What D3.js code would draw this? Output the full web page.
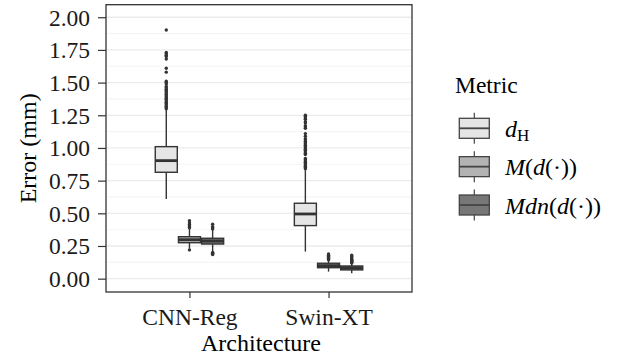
<!DOCTYPE html>
<html>
<head>
<meta charset="utf-8">
<script src="https://cdn.jsdelivr.net/npm/d3@7"></script>
</head>
<body style="margin:0;background:#fff">
<svg id="chart" width="619" height="359" style="display:block"></svg>
<script>
// categories
const architectures = ["CNN-Reg", "Swin-XT"];
const metrics = ["dH", "M", "Mdn"];
const yTicks = [0, 0.25, 0.5, 0.75, 1, 1.25, 1.5, 1.75, 2];

// box statistics, [architecture][metric]
const whiskerLow = [[0.61, 0.23, 0.21], [0.207, 0.054, 0.041]];
const quartile1 = [[0.814, 0.275, 0.265], [0.406, 0.084, 0.067]];
const medians = [[0.903, 0.298, 0.288], [0.495, 0.100, 0.082]];
const quartile3 = [[1.010, 0.321, 0.309], [0.577, 0.118, 0.097]];
const whiskerHigh = [[1.29, 0.385, 0.372], [0.83, 0.14, 0.115]];

// outliers, [architecture][metric]
const outliers = [
  [
    [1.903, 1.73, 1.72, 1.71, 1.70, 1.68, 1.61, 1.58, 1.51, 1.50, 1.49, 1.47, 1.46, 1.45, 1.44,
     1.43, 1.42, 1.41, 1.40, 1.39, 1.38, 1.37, 1.36, 1.35, 1.34, 1.33, 1.32, 1.31, 1.30],
    [0.444, 0.426, 0.415, 0.405, 0.395, 0.39, 0.22],
    [0.416, 0.398, 0.39, 0.38, 0.20, 0.195, 0.19, 0.185]
  ],
  [
    [1.25, 1.24, 1.23, 1.22, 1.20, 1.19, 1.17, 1.16, 1.15, 1.11, 1.09, 1.07, 1.06, 1.05, 1.04,
     1.03, 1.02, 1.01, 1.00, 0.99, 0.98, 0.97, 0.96, 0.95, 0.92, 0.91, 0.90, 0.89, 0.88, 0.87,
     0.86, 0.85, 0.84],
    [0.189, 0.18, 0.175, 0.17, 0.165, 0.16, 0.155, 0.15, 0.145],
    [0.179, 0.17, 0.16, 0.15, 0.145, 0.14, 0.135, 0.13, 0.125, 0.12]
  ]
];

const serif = "Liberation Serif";
const svg = d3.select("#chart").attr("font-family", serif);
const panel = { left: 106, top: 4.7, right: 412, bottom: 292 };
const ink = "#333333";

let x = d3.scalePoint()
  .domain(architectures)
  .range([panel.left, panel.right])
  .padding(0.6);

let dodge = d3.scaleBand()
  .domain(metrics)
  .range([-x.step() * 0.25, x.step() * 0.25]);

let y = d3.scaleLinear()
  .domain([-0.102, 2.096])
  .range([panel.bottom, panel.top]);

let fill = d3.scaleOrdinal()
  .domain(metrics)
  .range(["#e5e5e5", "#b3b3b3", "#777777"]);

// grid lines (minor + major)
const minor = yTicks.slice(0, -1).map(d => d + 0.125);
svg.append("g").selectAll("line")
  .data(minor)
  .join("line")
  .attr("x1", panel.left).attr("x2", panel.right)
  .attr("y1", d => y(d)).attr("y2", d => y(d))
  .attr("stroke", "#efefef").attr("stroke-width", 0.7);
svg.append("g").selectAll("line")
  .data(yTicks)
  .join("line")
  .attr("x1", panel.left).attr("x2", panel.right)
  .attr("y1", d => y(d)).attr("y2", d => y(d))
  .attr("stroke", "#ebebeb").attr("stroke-width", 1.3);

// boxes
let boxes = [];
architectures.forEach(function (a, i) {
  metrics.forEach(function (m, j) {
    boxes.push({
      arch: a, metric: m,
      lo: whiskerLow[i][j], q1: quartile1[i][j], med: medians[i][j],
      q3: quartile3[i][j], hi: whiskerHigh[i][j], out: outliers[i][j]
    });
  });
});

const bw = dodge.bandwidth() * 0.95;
const cx = d => x(d.arch) + dodge(d.metric) + dodge.bandwidth() / 2;

let g = svg.append("g").selectAll("g")
  .data(boxes)
  .join("g");

g.append("line")
  .attr("x1", cx).attr("x2", cx)
  .attr("y1", d => y(d.lo)).attr("y2", d => y(d.q1))
  .attr("stroke", ink).attr("stroke-width", 1.4);
g.append("line")
  .attr("x1", cx).attr("x2", cx)
  .attr("y1", d => y(d.q3)).attr("y2", d => y(d.hi))
  .attr("stroke", ink).attr("stroke-width", 1.4);
g.append("rect")
  .attr("x", d => cx(d) - bw / 2)
  .attr("width", bw)
  .attr("y", d => y(d.q3))
  .attr("height", d => y(d.q1) - y(d.q3))
  .attr("fill", d => fill(d.metric))
  .attr("stroke", ink).attr("stroke-width", 1.4);
g.append("line")
  .attr("x1", d => cx(d) - bw / 2).attr("x2", d => cx(d) + bw / 2)
  .attr("y1", d => y(d.med)).attr("y2", d => y(d.med))
  .attr("stroke", ink).attr("stroke-width", 2.8);
g.selectAll("circle")
  .data(d => d.out.map(v => ({ v: v, cx: cx(d) })))
  .join("circle")
  .attr("cx", d => d.cx)
  .attr("cy", d => y(d.v))
  .attr("r", 1.7)
  .attr("fill", ink);

// panel border
svg.append("rect")
  .attr("x", panel.left).attr("y", panel.top)
  .attr("width", panel.right - panel.left).attr("height", panel.bottom - panel.top)
  .attr("fill", "none").attr("stroke", ink).attr("stroke-width", 1.3);

// y axis
let yAxis = svg.append("g")
  .attr("transform", `translate(${panel.left},0)`)
  .call(d3.axisLeft(y).tickValues(yTicks).tickFormat(d3.format(".2f")).tickSize(8).tickPadding(8))
  .attr("font-family", serif);
yAxis.select(".domain").remove();
yAxis.selectAll("line").attr("stroke", ink).attr("stroke-width", 1.2);
yAxis.selectAll("text")
  .attr("font-size", 23.5)
  .attr("fill", "#1a1a1a").attr("dy", "0.34em");

// x axis
let xAxis = svg.append("g")
  .attr("transform", `translate(0,${panel.bottom})`)
  .call(d3.axisBottom(x).tickSize(6).tickPadding(0))
  .attr("font-family", serif);
xAxis.select(".domain").remove();
xAxis.selectAll("line").attr("stroke", ink).attr("stroke-width", 1.2);
xAxis.selectAll("text")
  .attr("font-size", 23.5)
  .attr("fill", "#1a1a1a").attr("y", 33).attr("dy", 0);

// axis titles
svg.append("text")
  .attr("x", 261).attr("y", 351)
  .attr("text-anchor", "middle")
  .attr("font-size", 24)
  .text("Architecture");
svg.append("text")
  .attr("transform", `translate(36,${(panel.top + panel.bottom) / 2}) rotate(-90)`)
  .attr("text-anchor", "middle")
  .attr("font-size", 24)
  .text("Error (mm)");

// legend
svg.append("text")
  .attr("x", 455).attr("y", 93)
  .attr("font-size", 23.5)
  .text("Metric");

const keyY = d3.scalePoint().domain(metrics).range([128.3, 205]);
let key = svg.append("g").selectAll("g")
  .data(metrics)
  .join("g")
  .attr("transform", d => `translate(474.3,${keyY(d)})`);
key.append("line")
  .attr("y1", -15.5).attr("y2", 15.5)
  .attr("stroke", "#444").attr("stroke-width", 1.2);
key.append("rect")
  .attr("x", -15).attr("y", -10).attr("width", 30).attr("height", 20)
  .attr("fill", d => fill(d))
  .attr("stroke", "#444").attr("stroke-width", 1.3);
key.append("line")
  .attr("x1", -15).attr("x2", 15)
  .attr("stroke", "#444").attr("stroke-width", 1.8);

const labelParts = {
  dH: [["d", "italic"], ["H", "sub"]],
  M: [["M", "italic"], ["(", "normal"], ["d", "italic"], ["(·))", "normal"]],
  Mdn: [["Mdn", "italic"], ["(", "normal"], ["d", "italic"], ["(·))", "normal"]]
};
let labels = svg.append("g").selectAll("text")
  .data(metrics)
  .join("text")
  .attr("x", 505)
  .attr("y", d => keyY(d) + 8.5)
  .attr("font-size", 24);
labels.selectAll("tspan")
  .data(d => labelParts[d])
  .join("tspan")
  .text(d => d[0])
  .attr("font-style", d => d[1] == "italic" ? "italic" : "normal")
  .attr("font-size", d => d[1] == "sub" ? 17 : null)
  .attr("dy", d => d[1] == "sub" ? 4 : null);

svg.selectAll("text, tspan")
  .attr("font-family", serif)
  .style("font-family", "'Liberation Serif'");
</script>
</body>
</html>
